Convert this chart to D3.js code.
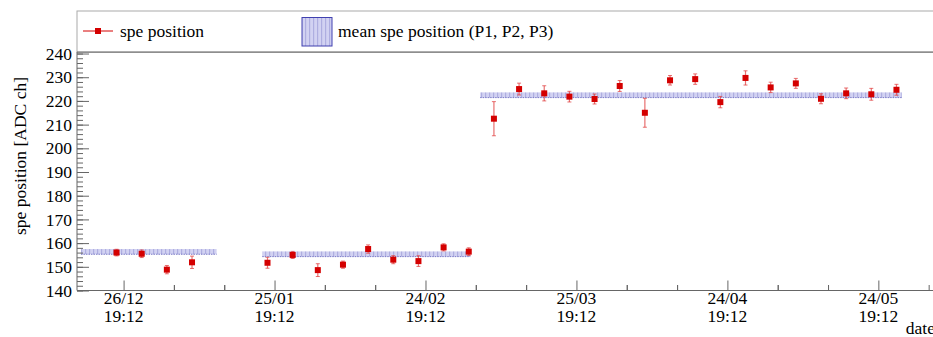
<!DOCTYPE html>
<html><head><meta charset="utf-8">
<script src="https://cdn.jsdelivr.net/npm/d3@7"></script>
<style>body{margin:0;background:#fff;} svg{display:block;} text{font-family:"Liberation Serif","Times New Roman",serif;}</style>
</head><body><svg id="c" width="933" height="337"></svg>
<script>
// ---- data ----
const dates = ["2019-12-25T09:36Z","2019-12-30T09:36Z","2020-01-04T09:36Z","2020-01-09T09:36Z",
  "2020-01-24T09:36Z","2020-01-29T09:36Z","2020-02-03T09:36Z","2020-02-08T09:36Z","2020-02-13T09:36Z",
  "2020-02-18T09:36Z","2020-02-23T09:36Z","2020-02-28T09:36Z","2020-03-04T09:36Z",
  "2020-03-09T09:36Z","2020-03-14T09:36Z","2020-03-19T09:36Z","2020-03-24T09:36Z","2020-03-29T09:36Z",
  "2020-04-03T09:36Z","2020-04-08T09:36Z","2020-04-13T09:36Z","2020-04-18T09:36Z","2020-04-23T09:36Z",
  "2020-04-28T09:36Z","2020-05-03T09:36Z","2020-05-08T09:36Z","2020-05-13T09:36Z","2020-05-18T09:36Z",
  "2020-05-23T09:36Z","2020-05-28T09:36Z"];
const spePosition = [156.0,155.5,148.8,151.9,151.7,155.0,148.6,150.9,157.5,153.0,152.4,158.2,156.4,
  212.5,225.0,223.2,221.8,220.8,226.3,215.0,228.7,229.2,219.5,229.7,225.7,227.4,220.9,223.2,222.8,224.7];
const speError = [1.4,1.6,1.75,2.6,2.3,1.5,2.7,1.5,1.75,1.7,2.25,1.5,1.6,
  7.2,2.5,3.2,2.25,2.1,2.3,6.1,2.0,2.2,2.4,3.0,2.2,2.1,2.1,2.25,2.5,2.3];
const periods = ["P1","P2","P3"];
const periodStart = ["2019-12-18T08:00Z","2020-01-23T08:40Z","2020-03-06T16:00Z"];
const periodEnd = ["2020-01-14T07:00Z","2020-03-04T16:50Z","2020-05-29T11:00Z"];
const periodMean = [156.4,155.4,222.5];
const periodErr = [1.1,1.1,1.1];
const xTickDates = ["2019-12-26T19:12Z","2020-01-25T19:12Z","2020-02-24T19:12Z","2020-03-25T19:12Z","2020-04-24T19:12Z","2020-05-24T19:12Z"];
const yTickLabels = [140,150,160,170,180,190,200,210,220,230,240];
const xDomain = ["2019-12-17T13:00Z","2020-06-05T00:00Z"];
const yDomain = [140,240.6];
const legendLabels = ["spe position","mean spe position (P1, P2, P3)"];
const yTitle = "spe position [ADC ch]";
const xTitle = "date";

// ---- drawing ----
const svg = d3.select("#c");
const L=77, R=934.7, B=290.5, T=52.1;
const x = d3.scaleUtc().domain(xDomain.map(d=>new Date(d))).range([L,R]);
const y = d3.scaleLinear().domain(yDomain).range([B,T]);
const axisColor="#666";
const FS=17.5;

const defs = svg.append("defs");
const pat = defs.append("pattern").attr("id","hatch").attr("patternUnits","userSpaceOnUse")
  .attr("width",4).attr("height",4);
pat.append("rect").attr("width",4).attr("height",4).attr("fill","#d2d2f2");
pat.append("rect").attr("x",1).attr("width",1.2).attr("height",4).attr("fill","#aeaee0");

// legend box
svg.append("rect").attr("x",L).attr("y",11).attr("width",900).attr("height",T-11)
  .attr("fill","#fff").attr("stroke","#aaa").attr("stroke-width",1);

// period bands
const bands = periods.map((p,i)=>({s:new Date(periodStart[i]),e:new Date(periodEnd[i]),m:periodMean[i],err:periodErr[i]}));
svg.selectAll("rect.band").data(bands).enter().append("rect").attr("class","band")
  .attr("x",d=>x(d.s)).attr("width",d=>x(d.e)-x(d.s))
  .attr("y",d=>y(d.m+d.err)).attr("height",d=>y(d.m-d.err)-y(d.m+d.err))
  .attr("fill","url(#hatch)");
svg.selectAll("line.bandedge").data(bands).enter().append("line")
  .attr("x1",d=>x(d.s)).attr("x2",d=>x(d.e)).attr("y1",d=>y(d.m-d.err)).attr("y2",d=>y(d.m-d.err))
  .attr("stroke","#7a7ac8").attr("stroke-width",1).attr("stroke-dasharray","1.5,1");

// points
const pts = dates.map((d,i)=>({t:new Date(d),v:spePosition[i],e:speError[i]}));
const g = svg.append("g");
g.selectAll("line.err").data(pts).enter().append("line")
  .attr("x1",d=>x(d.t)).attr("x2",d=>x(d.t)).attr("y1",d=>y(d.v-d.e)).attr("y2",d=>y(d.v+d.e))
  .attr("stroke","#e04040").attr("stroke-opacity",0.75).attr("stroke-width",1.2);
["lo","hi"].forEach(k=>{
  g.selectAll("line.cap"+k).data(pts).enter().append("line")
   .attr("x1",d=>x(d.t)-2).attr("x2",d=>x(d.t)+2)
   .attr("y1",d=>y(k==="lo"?d.v-d.e:d.v+d.e)).attr("y2",d=>y(k==="lo"?d.v-d.e:d.v+d.e))
   .attr("stroke","#e04040").attr("stroke-opacity",0.75).attr("stroke-width",1);
});
g.selectAll("rect.pt").data(pts).enter().append("rect")
  .attr("x",d=>x(d.t)-3).attr("y",d=>y(d.v)-3).attr("width",6).attr("height",6)
  .attr("fill","#d40000");

// frame
svg.append("line").attr("x1",L).attr("x2",940).attr("y1",T).attr("y2",T).attr("stroke",axisColor);

// y axis
const yMinor = d3.range(140,241,2);
svg.append("g").attr("transform",`translate(${L},0)`)
  .call(d3.axisRight(y).tickValues(yMinor).tickSize(6).tickFormat(""))
  .call(a=>{a.select(".domain").remove();a.selectAll("line").attr("stroke",axisColor);});
const ya = svg.append("g").attr("transform",`translate(${L},0)`)
  .call(d3.axisRight(y).tickValues(yTickLabels).tickSize(12).tickFormat(""));
ya.select(".domain").remove(); ya.selectAll("line").attr("stroke",axisColor);
svg.selectAll("text.ytl").data(yTickLabels).enter().append("text").attr("class","ytl")
  .attr("x",L-5).attr("y",d=>y(d)).attr("dy","0.35em").attr("text-anchor","end")
  .attr("font-size",FS).attr("fill","#000").text(d=>d);
svg.append("line").attr("x1",L).attr("x2",L).attr("y1",T).attr("y2",B).attr("stroke",axisColor);

// x axis
const majors = xTickDates.map(d=>new Date(d));
const minors = [];
majors.forEach(m=>{[-20,-10,10,20].forEach(k=>{const t=d3.utcDay.offset(m,k); if(x(t)>=L&&x(t)<=R) minors.push(t);});});
const xm = svg.append("g").attr("transform",`translate(0,${B})`)
  .call(d3.axisTop(x).tickValues(minors).tickSize(5.5).tickFormat(""));
xm.select(".domain").remove(); xm.selectAll("line").attr("stroke",axisColor);
const xa = svg.append("g").attr("transform",`translate(0,${B})`)
  .call(d3.axisTop(x).tickValues(majors).tickSize(10).tickFormat(""));
xa.select(".domain").remove(); xa.selectAll("line").attr("stroke",axisColor);
svg.append("line").attr("x1",L).attr("x2",940).attr("y1",B).attr("y2",B).attr("stroke",axisColor);
const fD=d3.utcFormat("%d/%m"), fT=d3.utcFormat("%H:%M");
svg.selectAll("text.xtl").data(majors).enter().append("text").attr("class","xtl")
  .attr("x",d=>x(d)).attr("y",303.5).attr("text-anchor","middle").attr("font-size",FS).attr("fill","#000").text(d=>fD(d));
svg.selectAll("text.xtl2").data(majors).enter().append("text").attr("class","xtl2")
  .attr("x",d=>x(d)).attr("y",322).attr("text-anchor","middle").attr("font-size",FS).attr("fill","#000").text(d=>fT(d));
svg.append("text").attr("x",935).attr("y",334).attr("text-anchor","end").attr("font-size",FS).text(xTitle);

// y title
svg.append("text").attr("transform",`translate(26,77) rotate(-90)`).attr("text-anchor","end")
  .attr("font-size",FS).text(yTitle);

// legend entries
svg.append("line").attr("x1",83).attr("x2",113).attr("y1",31).attr("y2",31).attr("stroke","#d40000").attr("stroke-width",1);
svg.append("rect").attr("x",95).attr("y",28).attr("width",6).attr("height",6).attr("fill","#d40000");
svg.append("text").attr("x",120).attr("y",37).attr("font-size",FS).text(legendLabels[0]);
svg.append("rect").attr("x",302).attr("y",17.5).attr("width",30).attr("height",28.5)
  .attr("fill","url(#hatch)").attr("stroke","#4040b0").attr("stroke-width",1);
svg.append("text").attr("x",338).attr("y",37).attr("font-size",FS).text(legendLabels[1]);
</script></body></html>
